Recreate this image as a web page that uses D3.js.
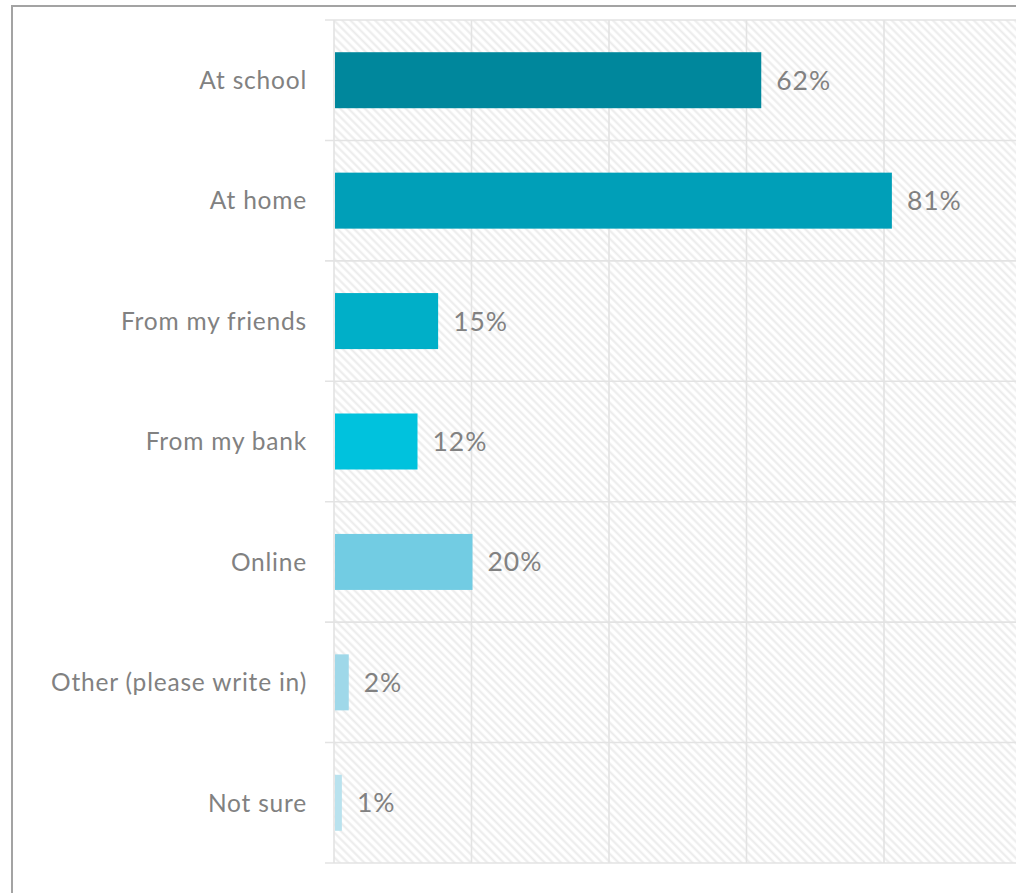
<!DOCTYPE html>
<html>
<head>
<meta charset="utf-8">
<script src="https://cdn.jsdelivr.net/npm/d3@7"></script>
<style>
  html, body { margin: 0; padding: 0; background: #fff; }
  svg { display: block; }
  text { font-family: Lato, "Open Sans", sans-serif; fill: #818181; }
</style>
</head>
<body>
<svg id="chart" width="1016" height="893"></svg>
<script>
// Where did you learn about money?
const categories = ["At school", "At home", "From my friends", "From my bank", "Online", "Other (please write in)", "Not sure"];
const shares = [62, 81, 15, 12, 20, 2, 1];
const barColors = ["#00879c", "#009fb8", "#00afc8", "#00c2dd", "#72cce3", "#9fd8e9", "#b9e2ee"];
const gridTicks = [0, 20, 40, 60, 80, 100];

const W = 1016, H = 893;
const svg = d3.select("#chart");

// hatched plot background
const defs = svg.append("defs");
const pat = defs.append("pattern")
  .attr("id", "hatch")
  .attr("patternUnits", "userSpaceOnUse")
  .attr("width", 5.8).attr("height", 5.8)
  .attr("patternTransform", "rotate(-45)");
pat.append("line")
  .attr("x1", 1.4).attr("y1", 0).attr("x2", 1.4).attr("y2", 5.8)
  .attr("stroke", "#ebebeb").attr("stroke-width", 2);

// outer frame (continues past the visible area)
svg.append("rect")
  .attr("x", 12).attr("y", 6)
  .attr("width", W + 50).attr("height", H + 50)
  .attr("fill", "none").attr("stroke", "#a3a3a3").attr("stroke-width", 2);

const x = d3.scaleLinear().domain([0, 100]).range([334, 1021.5]);
const y = d3.scaleBand().domain(categories).range([20, 863]).padding(0);
const barH = y.bandwidth() * 0.465;

svg.append("rect")
  .attr("x", x(0)).attr("y", y.range()[0])
  .attr("width", W - x(0)).attr("height", y.range()[1] - y.range()[0])
  .attr("fill", "url(#hatch)");

// vertical gridlines
svg.append("g")
  .selectAll("line")
  .data(gridTicks)
  .join("line")
  .attr("x1", d => x(d)).attr("x2", d => x(d))
  .attr("y1", y.range()[0]).attr("y2", y.range()[1])
  .attr("stroke", "#e3e3e3").attr("stroke-width", 1.6);

// horizontal category separators
const seps = categories.map(c => y(c)).concat([y.range()[1]]);
svg.append("g")
  .selectAll("line")
  .data(seps)
  .join("line")
  .attr("x1", 325).attr("x2", W)
  .attr("y1", d => d).attr("y2", d => d)
  .attr("stroke", "#e3e3e3").attr("stroke-width", 1.6);

const rows = categories.map((c, i) => ({ cat: c, v: shares[i], color: barColors[i] }));

// bars
svg.append("g")
  .selectAll("rect")
  .data(rows)
  .join("rect")
  .attr("x", x(0) + 1)
  .attr("y", d => y(d.cat) + (y.bandwidth() - barH) / 2)
  .attr("width", d => x(d.v) - x(0))
  .attr("height", barH)
  .attr("fill", d => d.color);

// category labels
svg.append("g")
  .selectAll("text")
  .data(rows)
  .join("text")
  .attr("x", 307)
  .attr("y", d => y(d.cat) + y.bandwidth() / 2)
  .attr("dy", "0.36em")
  .attr("text-anchor", "end")
  .attr("font-size", 24.5)
  .attr("letter-spacing", 0.8)
  .text(d => d.cat);

// value labels
svg.append("g")
  .selectAll("text")
  .data(rows)
  .join("text")
  .attr("x", d => x(d.v) + 16)
  .attr("y", d => y(d.cat) + y.bandwidth() / 2)
  .attr("dy", "0.36em")
  .attr("font-size", 26.5)
  .attr("letter-spacing", 1)
  .text(d => d.v + "%");
</script>
</body>
</html>
